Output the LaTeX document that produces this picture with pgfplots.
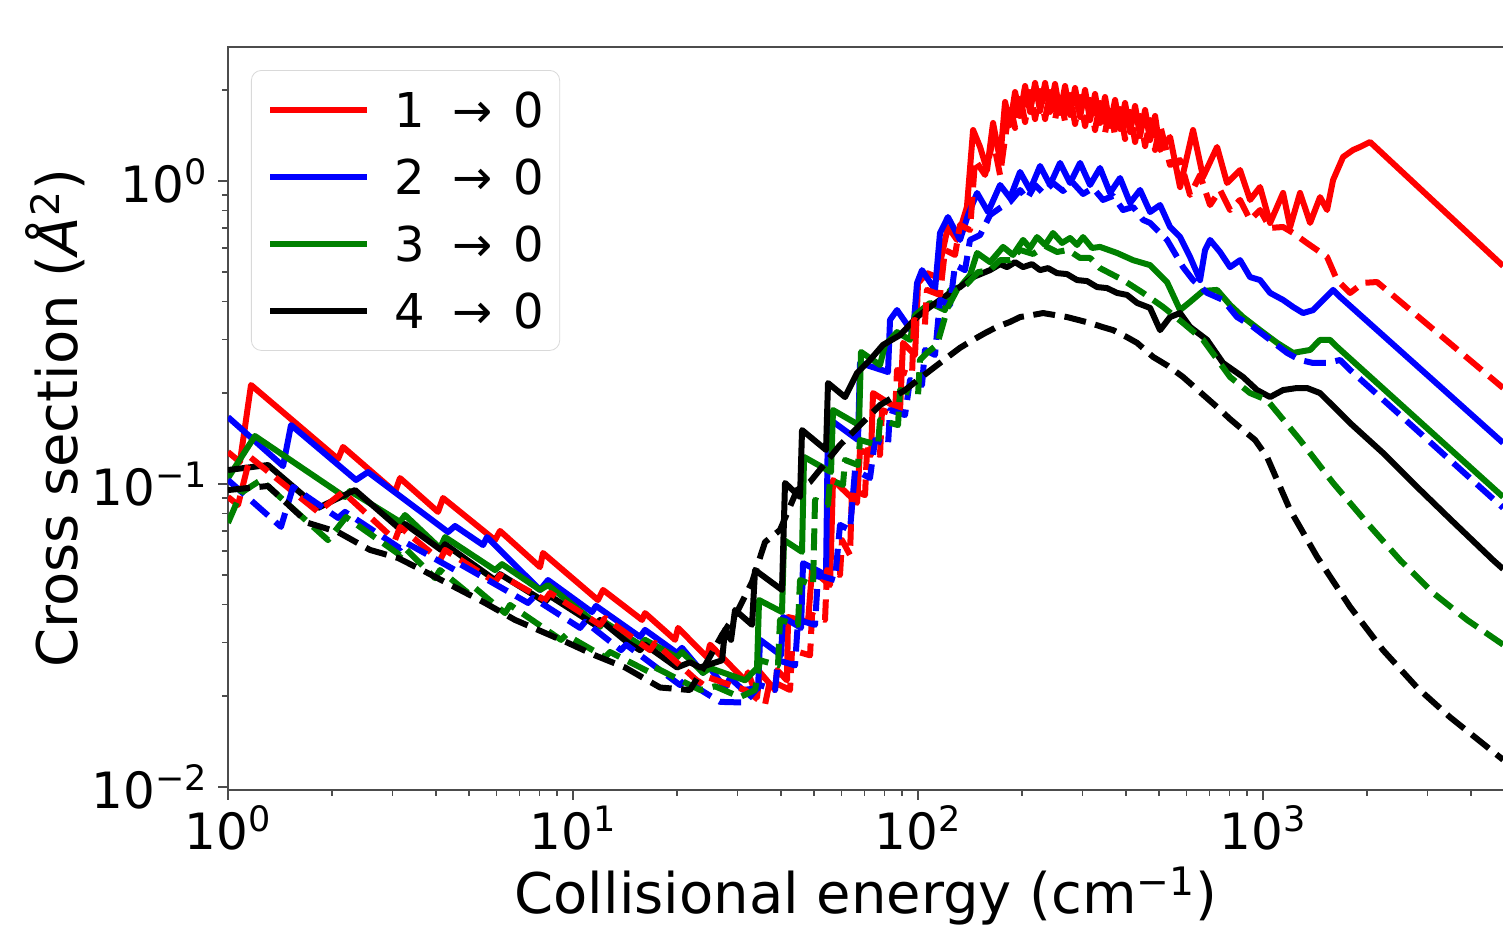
\documentclass[border=0pt]{standalone}
\usepackage{fontspec}
\setmainfont{DejaVu Sans}
\usepackage{pgfplots}
\pgfplotsset{compat=1.18}
\definecolor{mplgreen}{RGB}{0,128,0}
\newcommand{\sz}[1]{\fontsize{#1}{#1}\selectfont}
\newcommand{\tr}[2]{#1\hspace{14pt}→\hspace{10pt}#2}

\begin{document}
\begin{tikzpicture}
\path[use as bounding box] (-114pt,-69pt) rectangle (637.5pt,395pt);
\begin{axis}[
  at={(0pt,0pt)}, anchor=south west,
  scale only axis, width=638.1pt, height=371.5pt,
  xmode=log, ymode=log,
  xmin=1, xmax=5000, ymin=0.009775, ymax=2.768,
  axis line style={black!70, line width=0.8pt},
  tick style={black!70, line width=0.8pt},
  tick align=outside, xtick pos=left, ytick pos=left,
  major tick length=5pt, minor tick length=3pt,
  xtick={1,10,100,1000},
  xticklabels={10\textsuperscript{0},10\textsuperscript{1},10\textsuperscript{2},10\textsuperscript{3}},
  minor xtick={2,3,4,5,6,7,8,9,20,30,40,50,60,70,80,90,200,300,400,500,600,700,800,900,2000,3000,4000,5000},
  ytick={0.01,0.1,1},
  yticklabels={10\textsuperscript{−2},10\textsuperscript{−1},10\textsuperscript{0}},
  minor ytick={0.02,0.03,0.04,0.05,0.06,0.07,0.08,0.09,0.2,0.3,0.4,0.5,0.6,0.7,0.8,0.9,2},
  ticklabel style={font=\sz{25}},
  xticklabel style={anchor=base, yshift=-25pt},
  yticklabel style={anchor=east, inner sep=0pt, xshift=-5pt},
  xlabel={Collisional energy (cm\textsuperscript{−1})},
  ylabel={Cross section (\textit{Å}\textsuperscript{2})},
  every axis x label/.style={at={(axis description cs:0.5,-0.1427)}, anchor=center, font=\sz{28}},
  every axis y label/.style={at={(axis description cs:-0.1356,0.5)}, anchor=center, rotate=90, font=\sz{28}},
  legend style={at={(axis description cs:0.018,0.969)}, anchor=north west,
    draw=black!15, rounded corners=5pt, fill=white, fill opacity=0.8, text opacity=1,
    font=\sz{24}, inner xsep=8pt, inner ysep=11pt, row sep=16pt, column sep=12pt,
    nodes={inner sep=0pt, text height=17.5pt, text depth=0pt}},
  legend cell align=left,
  legend image code/.code={\draw[#1] (0pt,0pt) -- (48.5pt,0pt);},
  every axis plot/.append style={line width=3pt, line join=round},
]

% 1 -> 0, solid
\addplot[red] coordinates {
(1.000,0.1275) (1.083,0.1182) (1.166,0.2122) (2.084,0.1209) (2.155,0.1325)
(3.049,0.0941) (3.152,0.1046) (4.062,0.0809) (4.200,0.0899) (5.942,0.0653)
(6.144,0.0700) (8.023,0.0532) (8.185,0.0592) (11.81,0.0414) (12.22,0.0447)
(15.85,0.0356) (16.17,0.0375) (19.76,0.0306) (20.16,0.0335) (24.46,0.0268)
(24.95,0.0295) (31.53,0.0225) (32.16,0.0239) (34.15,0.0198) (34.84,0.0239)
(38.51,0.0209) (39.02,0.0243) (41.71,0.0225) (41.99,0.0364) (47.99,0.0351)
(49.29,0.0520) (55.58,0.0464) (56.70,0.1031) (66.56,0.0866) (67.90,0.1295)
(73.08,0.1247) (74.06,0.1996) (88.68,0.1754) (90.47,0.2923) (98.02,0.2667)
(100.0,0.4604) (106.1,0.4966) (113.5,0.4817) (122.1,0.7055) (129.7,0.639)
(138.6,0.8211) (144.4,1.473) (151.3,1.295) (158.5,1.087) (165.0,1.554)
(172.9,1.173)
(178.8,1.823) (184.8,1.530) (191.1,1.966) (197.6,1.639) (204.3,2.058)
(211.2,1.690) (218.4,2.106) (225.8,1.702) (233.5,2.106) (241.3,1.690)
(249.5,2.090) (258.0,1.677) (266.8,2.058) (275.8,1.652) (285.2,2.027)
(294.9,1.626) (304.9,1.997) (315.2,1.589) (325.9,1.937) (336.9,1.554)
(348.4,1.893) (360.2,1.519) (372.5,1.851) (385.1,1.485) (398.2,1.809)
(411.7,1.451) (425.7,1.768) (440.1,1.408) (455.1,1.715) (470.5,1.365)
(486.5,1.639) (502.9,1.266) (537.6,1.397)
(574.7,0.955) (626.8,1.473) (670.1,1.031) (735.8,1.295) (786.5,0.985)
(857.7,1.087) (917.0,0.866) (980.2,0.955) (1048,0.727) (1143,0.913)
(1198,0.705) (1280,0.913) (1369,0.727) (1463,0.885) (1533,0.802)
(1596,1.008) (1706,1.200) (1824,1.266) (1911,1.295) (2042,1.345) (4963,0.524)
};
\addlegendentry{\tr{1}{0}}

% 2 -> 0, solid
\addplot[blue] coordinates {
(1.000,0.1663) (1.444,0.1146) (1.523,0.1565) (2.350,0.1031) (2.545,0.1095)
(4.343,0.0694) (4.551,0.0727) (5.485,0.0629) (5.633,0.0668) (8.023,0.0447)
(8.463,0.0482) (11.35,0.0378) (11.66,0.0396) (15.64,0.0313) (16.17,0.0330)
(20.02,0.0277) (20.69,0.0288) (23.81,0.0238) (24.62,0.0252) (27.59,0.0212)
(28.52,0.0229) (31.11,0.0209) (34.38,0.0212) (34.84,0.0306) (40.08,0.0272)
(40.61,0.0364) (45.80,0.0335) (46.42,0.0548) (54.12,0.0501) (54.84,0.1651)
(67.00,0.1397) (67.90,0.2508) (81.85,0.2342) (82.95,0.348) (86.92,0.375)
(96.71,0.3148) (99.33,0.4604) (102.7,0.508) (112.0,0.437) (115.8,0.6735)
(122.1,0.7605) (132.3,0.639) (139.6,0.772) (148.3,0.913) (159.6,0.790)
(172.9,0.970) (184.8,0.879) (197.6,1.071) (211.2,0.934) (225.8,1.121)
(241.3,0.970) (258.0,1.147) (275.8,0.985) (294.9,1.147) (315.2,0.970)
(336.9,1.104) (360.2,0.913) (385.1,1.023) (411.7,0.846) (440.1,0.934)
(470.5,0.790) (502.9,0.833) (537.6,0.705) (574.7,0.6533) (614.4,0.5613)
(656.8,0.471) (679.1,0.592) (702.2,0.639) (750.6,0.583) (802.3,0.5196)
(857.7,0.548) (917.0,0.4817) (980.2,0.471) (1048,0.4272) (1143,0.405)
(1222,0.384) (1306,0.3666) (1397,0.375) (1493,0.405) (1596,0.437)
(1672,0.4144) (4963,0.1366)
};
\addlegendentry{\tr{2}{0}}

% 3 -> 0, solid
\addplot[mplgreen] coordinates {
(1.000,0.1046) (1.197,0.1440) (2.184,0.0906) (2.258,0.0948) (3.152,0.0750)
(3.259,0.0790) (4.117,0.0614) (4.257,0.0668) (5.942,0.0520) (6.226,0.0544)
(8.023,0.0447) (8.463,0.0464) (11.98,0.0338) (12.22,0.0353) (15.64,0.0295)
(16.17,0.0306) (20.02,0.0268) (20.69,0.0279) (23.81,0.0238) (24.95,0.0247)
(31.53,0.0225) (34.15,0.0247) (34.61,0.0414) (40.34,0.0378) (40.89,0.0653)
(46.11,0.0597) (46.73,0.1228) (55.95,0.1095) (56.70,0.1754) (67.45,0.1565)
(68.35,0.2728) (77.60,0.2470) (80.24,0.2878) (86.92,0.3171) (94.80,0.299)
(98.02,0.361) (108.3,0.3959) (119.7,0.375) (123.8,0.437) (132.3,0.4466)
(141.5,0.489) (148.3,0.5787) (161.7,0.5397) (176.4,0.606) (188.5,0.570)
(201.6,0.639) (211.2,0.601) (221.3,0.653) (233.5,0.615) (246.2,0.6735)
(261.5,0.6246) (275.8,0.6483) (289.0,0.615) (300.9,0.653) (319.4,0.601)
(336.9,0.606) (377.4,0.5787) (420.0,0.548) (470.5,0.5276) (526.9,0.4639)
(574.7,0.375) (614.4,0.3989) (670.1,0.4337) (735.8,0.437) (802.3,0.390)
(875.0,0.3556) (980.2,0.322) (1098,0.2923) (1222,0.2708) (1369,0.277)
(1463,0.299) (1564,0.299) (1639,0.2835) (4963,0.0906)
};
\addlegendentry{\tr{3}{0}}

% 4 -> 0, solid
\addplot[black] coordinates {
(1.000,0.1112) (1.306,0.1155) (1.824,0.0834) (2.335,0.0955) (3.173,0.0705)
(3.259,0.0738) (4.145,0.0606) (4.257,0.0633) (5.942,0.0482) (6.144,0.0504)
(8.296,0.0408) (8.577,0.0427) (11.58,0.0343) (11.98,0.0356) (14.44,0.0299)
(15.64,0.0283) (16.17,0.0295) (20.02,0.0248) (21.83,0.0258) (23.34,0.0248)
(27.04,0.0262) (27.58,0.0330) (28.71,0.0306) (29.49,0.0384) (33.03,0.0343)
(33.70,0.0520) (40.34,0.0447) (41.16,0.1008) (45.50,0.0906) (46.11,0.1507)
(54.12,0.1295) (54.84,0.2154) (61.43,0.1936) (66.56,0.2325) (72.59,0.2566)
(79.17,0.2878) (88.68,0.310) (99.33,0.3556) (108.3,0.384) (123.8,0.4272)
(132.3,0.4466) (144.4,0.4817) (161.7,0.508) (172.9,0.5316) (181.2,0.5196)
(191.1,0.5397) (201.6,0.5196) (214.0,0.5316) (225.8,0.508) (238.2,0.5157)
(252.8,0.4966) (270.3,0.4928) (289.0,0.471) (309.0,0.4674) (330.3,0.4466)
(353.0,0.4432) (377.4,0.4272) (403.5,0.4207) (431.4,0.3959) (470.5,0.3811)
(502.9,0.322) (537.6,0.3556) (574.7,0.3666) (614.4,0.330) (688.2,0.299)
(765.8,0.2508) (875.0,0.2255) (960.8,0.2042) (1048,0.1936) (1143,0.2042)
(1255,0.2074) (1341,0.2074) (1463,0.1996) (1788,0.1589) (2227,0.1266)
(2795,0.0978) (3483,0.0767) (4642,0.0561) (4963,0.0524)
};
\addlegendentry{\tr{4}{0}}

% 1 -> 0, dashed
\addplot[red, dash pattern=on 11pt off 4.8pt, forget plot] coordinates {
(1.000,0.0906) (1.069,0.0853) (1.158,0.1228) (1.824,0.0809) (2.155,0.0941)
(3.049,0.0653) (3.152,0.0722) (4.117,0.0561) (4.257,0.0606) (5.942,0.0475)
(6.144,0.0501) (8.296,0.0414) (8.577,0.0437) (11.98,0.0343) (12.39,0.0361)
(16.72,0.0283) (17.29,0.0299) (23.34,0.0220) (24.13,0.0232) (31.53,0.0209)
(36.02,0.0187) (37.24,0.0225) (42.56,0.0209) (43.13,0.0283) (48.64,0.0272)
(49.29,0.0370) (53.76,0.0356) (54.47,0.0520) (59.41,0.0501) (60.21,0.0653)
(63.52,0.0583) (64.37,0.0955) (70.21,0.0919) (71.15,0.1295) (77.60,0.1247)
(78.64,0.1754) (85.77,0.1689) (86.92,0.2378) (96.07,0.2289) (97.37,0.348)
(104.7,0.335) (106.1,0.437) (115.8,0.4207) (119.7,0.592) (128.0,0.570)
(132.3,0.716) (141.5,0.689) (146.3,1.173) (156.4,1.047) (165.0,1.365)
(172.9,1.047)
(178.8,1.387) (184.8,1.782) (191.1,1.496) (197.6,1.907) (204.3,1.565)
(211.2,1.966) (218.4,1.601) (225.8,1.981) (233.5,1.601) (241.3,1.966)
(249.5,1.589) (258.0,1.951) (266.8,1.565) (275.8,1.922) (285.2,1.542)
(294.9,1.893) (304.9,1.519) (315.2,1.851) (325.9,1.473) (336.9,1.809)
(348.4,1.440) (360.2,1.768) (372.5,1.408) (385.1,1.728) (398.2,1.376)
(411.7,1.690) (425.7,1.345) (440.1,1.639) (455.1,1.304) (470.5,1.589)
(486.5,1.266) (502.9,1.530) (537.6,1.129)
(574.7,1.173) (614.4,0.899)
(656.8,1.047) (702.2,0.833) (750.6,0.934) (802.3,0.802) (857.7,0.866)
(917.0,0.744) (980.2,0.802) (1048,0.700) (1143,0.705) (1222,0.674)
(1341,0.624) (1434,0.592) (1533,0.561) (1639,0.471) (1788,0.427)
(1950,0.461) (2140,0.464) (4963,0.2074)
};

% 2 -> 0, dashed
\addplot[blue, dash pattern=on 11pt off 4.8pt, forget plot] coordinates {
(1.000,0.1031) (1.424,0.0722) (1.513,0.0906) (1.544,0.0978) (2.084,0.0773)
(2.184,0.0809) (3.152,0.0614) (3.259,0.0643) (4.551,0.0520) (4.705,0.0544)
(7.407,0.0405) (7.658,0.0421) (10.48,0.0335) (10.84,0.0351) (13.78,0.0283)
(14.25,0.0295) (20.42,0.0217) (21.11,0.0225) (26.68,0.0191) (31.53,0.0190)
(34.84,0.0217) (38.51,0.0209) (39.28,0.0262) (44.01,0.0252) (44.89,0.0356)
(50.29,0.0343) (51.31,0.0501) (57.47,0.0482) (59.41,0.0733) (63.52,0.0705)
(65.68,0.1112) (72.59,0.1046) (75.06,0.1397) (81.85,0.1345) (82.95,0.1754)
(91.69,0.1689) (94.80,0.2204) (102.7,0.2122) (104.7,0.277) (112.0,0.2667)
(115.8,0.405) (123.8,0.390) (128.0,0.5276) (136.8,0.508) (141.5,0.639)
(151.3,0.663) (161.7,0.772) (172.9,0.8149) (184.8,0.853) (197.6,0.934)
(207.0,0.872) (218.4,0.970) (230.4,0.913) (246.2,0.985) (263.2,0.927)
(281.4,0.985) (300.9,0.906) (321.6,0.948) (343.7,0.866) (367.5,0.8924)
(392.9,0.802) (420.0,0.821) (449.0,0.744) (470.5,0.727) (526.9,0.639)
(586.3,0.5196) (626.8,0.471) (688.2,0.4272) (765.8,0.405) (840.7,0.3556)
(935.5,0.330) (1048,0.299) (1174,0.2708) (1280,0.2566) (1397,0.2508)
(1533,0.2508) (1672,0.2566) (1788,0.2378) (4963,0.0834)
};

% 3 -> 0, dashed
\addplot[mplgreen, dash pattern=on 11pt off 4.8pt, forget plot] coordinates {
(1.000,0.0744) (1.090,0.0934) (1.246,0.1031) (1.949,0.0653) (2.198,0.0778)
(3.152,0.0583) (3.259,0.0614) (3.982,0.0489) (4.117,0.0520) (4.963,0.0437)
(5.200,0.0454) (6.353,0.0375) (6.568,0.0399) (9.231,0.0306) (9.545,0.0318)
(12.39,0.0268) (12.80,0.0279) (16.72,0.0239) (17.29,0.0248) (23.34,0.0209)
(25.80,0.0215) (30.49,0.0198) (33.70,0.0209) (34.84,0.0262) (39.28,0.0252)
(39.81,0.0356) (44.89,0.0343) (45.50,0.0482) (49.62,0.0464) (50.29,0.0886)
(54.84,0.0853) (55.58,0.1031) (60.61,0.0993) (61.43,0.1200) (67.00,0.1155)
(67.90,0.1397) (76.57,0.1345) (77.60,0.1626) (87.50,0.1565) (88.68,0.2042)
(100.0,0.1966) (101.3,0.2566) (106.1,0.2708) (113.5,0.2878) (122.1,0.3840)
(129.7,0.437) (138.6,0.4569) (149.3,0.5003) (161.7,0.508) (172.9,0.548)
(184.8,0.548) (197.6,0.592) (215.5,0.5743) (233.5,0.6105) (252.8,0.583)
(272.1,0.592) (294.9,0.557) (315.2,0.557) (336.9,0.5157) (392.9,0.471)
(449.0,0.4272) (513.1,0.384) (586.3,0.340) (670.1,0.299) (802.3,0.2255)
(917.0,0.1996) (1027,0.1893) (1280,0.1397) (1596,0.1008) (2002,0.0744)
(2495,0.0561) (3111,0.0437) (3903,0.0356) (4963,0.0295)
};

% 4 -> 0, dashed
\addplot[black, dash pattern=on 11pt off 4.8pt, forget plot] coordinates {
(1.000,0.0955) (1.306,0.0985) (1.706,0.0744) (2.084,0.0694) (2.580,0.0606)
(3.111,0.0570) (3.799,0.0508) (5.559,0.0405) (6.791,0.0356) (9.673,0.0299)
(11.58,0.0272) (14.16,0.0248) (17.88,0.0213) (21.83,0.0209) (24.13,0.0252)
(27.04,0.0318) (29.88,0.0378) (33.03,0.0475) (36.02,0.0643) (39.81,0.0705)
(44.59,0.0955) (48.64,0.1016) (59.41,0.1345) (77.60,0.1822) (91.69,0.2042)
(106.1,0.2325) (122.1,0.2627) (132.3,0.2814) (144.4,0.299) (156.4,0.3148)
(169.4,0.330) (184.8,0.3427) (197.6,0.3556) (214.0,0.361) (230.4,0.3666)
(249.5,0.361) (270.3,0.3556) (290.9,0.348) (315.2,0.340) (341.4,0.330)
(367.5,0.322) (398.2,0.3076) (431.4,0.2923) (480.0,0.2627) (530.5,0.2452)
(586.3,0.2255) (656.8,0.2011) (735.8,0.1795) (802.3,0.1638) (875.0,0.1507)
(948.2,0.1397) (1027,0.1228) (1198,0.0821) (1434,0.0575) (1788,0.0393)
(2227,0.0283) (2795,0.0213) (3483,0.0170) (4963,0.0123)
};

\end{axis}
\end{tikzpicture}
\end{document}
